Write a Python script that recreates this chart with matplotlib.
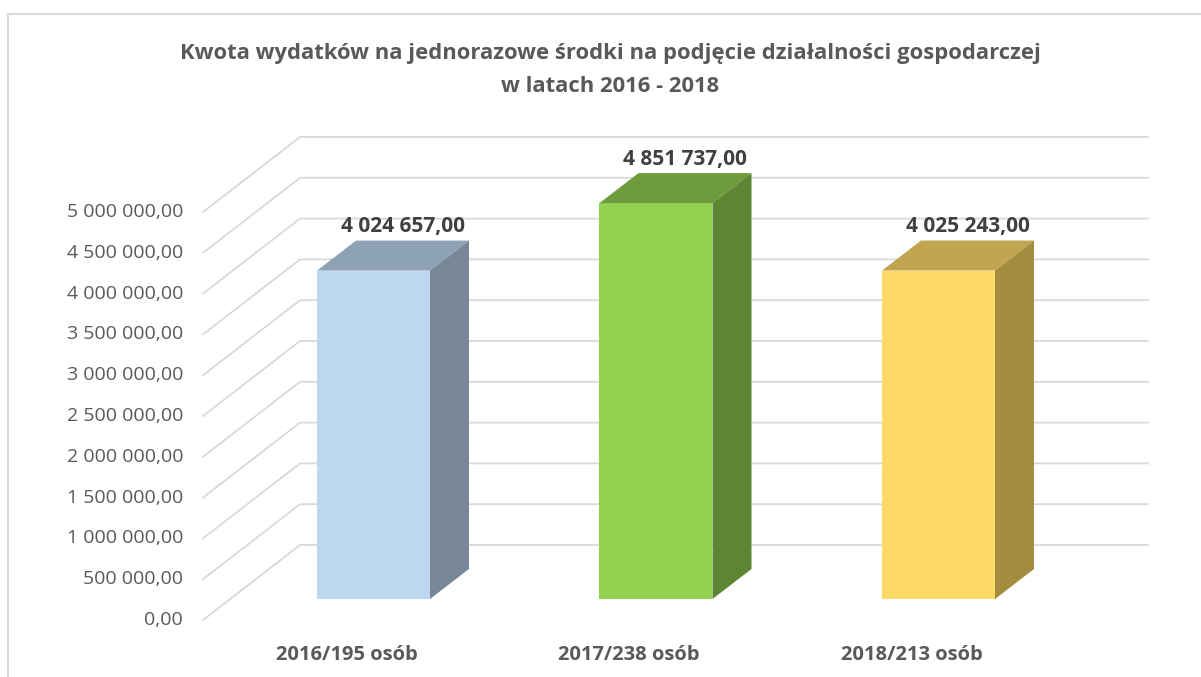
import matplotlib.pyplot as plt
from matplotlib.patches import Polygon, Rectangle

categories = ['2016/195 osób', '2017/238 osób', '2018/213 osób']
values = [4024657.00, 4851737.00, 4025243.00]
value_labels = ['4 024 657,00', '4 851 737,00', '4 025 243,00']
ticks = [0, 500000, 1000000, 1500000, 2000000, 2500000, 3000000,
         3500000, 4000000, 4500000, 5000000]
tick_labels = ['0,00', '500 000,00', '1 000 000,00', '1 500 000,00',
               '2 000 000,00', '2 500 000,00', '3 000 000,00',
               '3 500 000,00', '4 000 000,00', '4 500 000,00',
               '5 000 000,00']
title = ('Kwota wydatków na jednorazowe środki na podjęcie działalności gospodarczej\n'
         'w latach 2016 - 2018')

front_cols = ['#BDD7EE', '#92D050', '#FFD966']
top_cols = ['#8EA2B5', '#6E9B3C', '#C2A550']
side_cols = ['#778797', '#5E8532', '#A48C3E']

# pseudo-3D geometry (x in category units, y in value units)
PX = 282.5            # pixels per category
PY = 81.6e-6          # pixels per value unit
bar_w = 0.4
bdx, bdy = 39 / PX, 30 / PY          # bar depth
fdx, fdy = 97 / PX, 75 / PY          # floor depth
front_dx, front_dy = -27 / PX, -21 / PY   # front of floor relative to bar front
x_end = (1148 - 373.5) / PX

fig = plt.figure(figsize=(12.01, 6.77), dpi=100)
ax = fig.add_axes([0, 0, 1, 1])
ax.set_xlim(-373.5 / PX, (1201 - 373.5) / PX)
ax.set_ylim((599 - 677) / PY, 599 / PY)
ax.axis('off')

fig.patches.append(Rectangle((8 / 1201, -0.1), 1.2, 1 - 14 / 677 + 0.1,
                             transform=fig.transFigure, fill=False,
                             edgecolor='#D9D9D9', lw=1.5))

grid_c = '#D9D9D9'
fx0 = -0.5 - 0.1035
for v, lab in zip(ticks, tick_labels):
    y0 = v + front_dy
    ax.plot([fx0, fx0 + fdx, x_end], [y0, y0 + fdy, y0 + fdy],
            color=grid_c, lw=1.3, zorder=1)
    ax.text(-0.674, y0, lab, ha='right', va='center', fontsize=14,
            color='#595959', family='Open Sans')

for i, (v, lab) in enumerate(zip(values, value_labels)):
    xl, xr = i - bar_w / 2, i + bar_w / 2
    ax.add_patch(Polygon([(xl, 0), (xr, 0), (xr, v), (xl, v)],
                         closed=True, facecolor=front_cols[i], edgecolor='none', zorder=3))
    ax.add_patch(Polygon([(xl, v), (xr, v), (xr + bdx, v + bdy), (xl + bdx, v + bdy)],
                         closed=True, facecolor=top_cols[i], edgecolor='none', zorder=3))
    ax.add_patch(Polygon([(xr, 0), (xr + bdx, bdy), (xr + bdx, v + bdy), (xr, v)],
                         closed=True, facecolor=side_cols[i], edgecolor='none', zorder=3))
    ax.text(i + bdx / 2 + 0.035, v + bdy + 14 / PY, lab, ha='center', va='center',
            fontsize=15, fontweight='bold', color='#404040', family='Open Sans', zorder=4)
    ax.text(i + front_dx, (599 - 655) / PY, categories[i], ha='center', va='center',
            fontsize=14.5, fontweight='bold', color='#595959', family='Open Sans')

fig.text(610 / 1201, 1 - 70 / 677, title, ha='center', va='center',
         fontsize=15.8, fontweight='bold', color='#595959', family='Open Sans',
         linespacing=1.7)

fig.savefig('out.png', dpi=100)
